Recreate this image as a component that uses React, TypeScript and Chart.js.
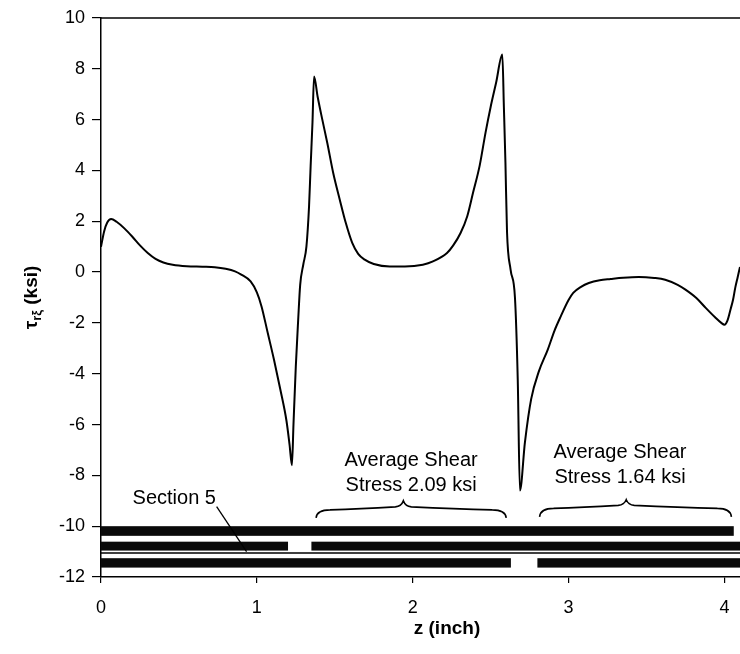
import React, { useEffect, useRef } from "react";
import { Chart, registerables } from "chart.js";

Chart.register(...registerables);

// ---- data ----
const zValues = [
  0.0, 0.02, 0.04, 0.065, 0.1, 0.15, 0.2, 0.25, 0.3, 0.35, 0.4, 0.46, 0.55, 0.65, 0.73, 0.8, 0.86, 0.9, 0.96,
  1.0, 1.03, 1.07, 1.11, 1.15, 1.19, 1.21, 1.225, 1.235, 1.25, 1.265, 1.278, 1.298, 1.318, 1.335, 1.345, 1.357,
  1.367, 1.39, 1.42, 1.452, 1.49, 1.532, 1.57, 1.612, 1.65, 1.692, 1.75, 1.853, 1.95, 2.065, 2.13, 2.22, 2.26,
  2.307, 2.35, 2.387, 2.43, 2.467, 2.5, 2.535, 2.575, 2.585, 2.595, 2.605, 2.628, 2.656, 2.674, 2.688, 2.72, 2.76,
  2.81, 2.866, 2.91, 2.95, 3.0, 3.03, 3.08, 3.13, 3.2, 3.27, 3.35, 3.45, 3.55, 3.62, 3.7, 3.75, 3.82, 3.88,
  3.94, 3.98, 4.0, 4.02, 4.04, 4.055, 4.07, 4.085, 4.1,
];
const tauValues = [
  1.0, 1.6, 1.95, 2.09, 1.98, 1.72, 1.4, 1.05, 0.75, 0.52, 0.38, 0.29, 0.23, 0.21, 0.19, 0.13, 0.03, -0.1, -0.37,
  -0.8, -1.35, -2.4, -3.45, -4.6, -5.85, -6.8, -7.6, -6.0, -3.7, -1.9, -0.5, 0.3, 1.0, 2.6, 4.16, 5.9,
  7.7, 6.9, 6.0, 5.08, 3.9, 2.85, 1.95, 1.15, 0.72, 0.49, 0.32, 0.22, 0.22, 0.29, 0.42, 0.75, 1.05,
  1.54, 2.2, 3.12, 4.2, 5.48, 6.5, 7.45, 8.56, 6.5, 4.3, 1.6, 0.1, -1.0, -4.24, -8.6, -6.7, -5.0,
  -3.9, -3.06, -2.3, -1.74, -1.1, -0.82, -0.58, -0.43, -0.32, -0.27, -0.22, -0.19, -0.23, -0.3, -0.5, -0.69, -1.02, -1.41,
  -1.78, -2.0, -2.07, -1.9, -1.45, -1.1, -0.6, -0.2, 0.2,
];

const xRange = [0, 4.1];
const yRange = [-12, 10];
const xTickValues = [0, 1, 2, 3, 4];
const yTickStep = 2;

// section bars at the bottom: [zStart, zEnd] per row, row levels [top, bottom]
const barRow1 = [[0, 4.06]];
const barRow2 = [[0, 1.2], [1.35, 4.1]];
const barRow3 = [[0, 2.63], [2.8, 4.1]];
const barRows = [barRow1, barRow2, barRow3];
const rowLevels = [[-10.0, -10.38], [-10.61, -10.96], [-11.26, -11.63]];
const dividerLevel = -11.06;

// braces: [zStart, zEnd, zTip] and [yEnds, yBody, yTip]
const braceSpans = [[1.38, 2.6, 1.94], [2.814, 4.045, 3.37]];
const braceLevels = [[-9.67, -9.36, -9.0], [-9.63, -9.3, -8.96]];

const averageLabels = [["Average Shear", "Stress 2.09 ksi"], ["Average Shear", "Stress 1.64 ksi"]];
const averageLabelPos = [[1.99, -7.62, -8.61], [3.33, -7.31, -8.3]];

const sectionLabel = "Section 5";
const sectionLabelPos = [0.47, -9.12];
const sectionLeader = [[0.742, -9.23], [0.934, -11.0]];

const xTitle = "z (inch)";
const xTitleCenterZ = 2.22;
const yTitleMain = "τ";
const yTitleSub = "rξ";
const yTitleRest = " (ksi)";

const FONT = "'Liberation Sans', Arial, Helvetica, sans-serif";

const overlayPlugin = {
  id: "overlay",
  afterDraw(chart: any) {
    const { ctx, chartArea, scales } = chart;
    const xs = scales.x;
    const ys = scales.y;
    const px = (v: number) => xs.getPixelForValue(v);
    const py = (v: number) => ys.getPixelForValue(v);
    ctx.save();

    // top frame line
    ctx.strokeStyle = "#000";
    ctx.lineWidth = 1.5;
    ctx.beginPath();
    ctx.moveTo(chartArea.left, py(yRange[1]));
    ctx.lineTo(chartArea.right, py(yRange[1]));
    ctx.stroke();

    // bars
    ctx.fillStyle = "#0a0a0a";
    barRows.forEach((row, i) => {
      const [top, bot] = rowLevels[i];
      row.forEach(([a, b]) => {
        const x0 = px(a);
        const x1 = Math.min(px(b), chartArea.right);
        ctx.fillRect(x0, py(top), x1 - x0, py(bot) - py(top));
      });
    });

    // divider
    ctx.lineWidth = 1.5;
    ctx.beginPath();
    ctx.moveTo(px(xRange[0]), py(dividerLevel));
    ctx.lineTo(px(xRange[1]), py(dividerLevel));
    ctx.stroke();

    // braces
    ctx.lineWidth = 1.6;
    braceSpans.forEach(([a, b, t], i) => {
      const [ye, yb, yt] = braceLevels[i].map(py);
      const xa = px(a);
      const xb = px(b);
      const xt = px(t);
      ctx.beginPath();
      ctx.moveTo(xa, ye);
      ctx.quadraticCurveTo(xa + 1, yb, xa + 14, yb);
      ctx.quadraticCurveTo((xa + xt) / 2, yb - 1, xt - 8, yb - 3);
      ctx.quadraticCurveTo(xt - 2, yb - 3.5, xt, yt);
      ctx.quadraticCurveTo(xt + 2, yb - 3.5, xt + 8, yb - 3);
      ctx.quadraticCurveTo((xb + xt) / 2, yb - 1, xb - 14, yb);
      ctx.quadraticCurveTo(xb - 1, yb, xb, ye);
      ctx.stroke();
    });

    // labels
    ctx.fillStyle = "#000";
    ctx.font = `20px ${FONT}`;
    ctx.textAlign = "center";
    ctx.textBaseline = "alphabetic";
    averageLabels.forEach((lines, i) => {
      const [z, y1, y2] = averageLabelPos[i];
      ctx.fillText(lines[0], px(z), py(y1));
      ctx.fillText(lines[1], px(z), py(y2));
    });
    ctx.fillText(sectionLabel, px(sectionLabelPos[0]), py(sectionLabelPos[1]));

    // leader line
    ctx.lineWidth = 1.3;
    ctx.beginPath();
    ctx.moveTo(px(sectionLeader[0][0]), py(sectionLeader[0][1]));
    ctx.lineTo(px(sectionLeader[1][0]), py(sectionLeader[1][1]));
    ctx.stroke();

    // x title
    ctx.font = `bold 19px ${FONT}`;
    ctx.textAlign = "center";
    ctx.fillText(xTitle, px(xTitleCenterZ), 634);

    // y title (rotated)
    const cy = (chartArea.top + chartArea.bottom) / 2;
    ctx.translate(31, cy);
    ctx.rotate(-Math.PI / 2);
    ctx.textAlign = "left";
    const mainFont = `bold 19px ${FONT}`;
    const subFont = `bold 13px ${FONT}`;
    ctx.font = mainFont;
    const w1 = ctx.measureText(yTitleMain).width;
    const w3 = ctx.measureText(yTitleRest).width;
    ctx.font = subFont;
    const w2 = ctx.measureText(yTitleSub).width;
    const x0 = -(w1 + w2 + w3) / 2;
    ctx.font = mainFont;
    ctx.fillText(yTitleMain, x0, 6);
    ctx.font = subFont;
    ctx.fillText(yTitleSub, x0 + w1, 10);
    ctx.font = mainFont;
    ctx.fillText(yTitleRest, x0 + w1 + w2, 6);

    ctx.restore();
  },
};

export default function App() {
  const ref = useRef<HTMLCanvasElement | null>(null);

  useEffect(() => {
    document.body.style.margin = "0";
    if (!ref.current) return;
    const points = zValues.map((z, i) => ({ x: z, y: tauValues[i] }));
    const chart = new Chart(ref.current, {
      type: "line",
      data: {
        datasets: [
          {
            data: points,
            borderColor: "#000",
            borderWidth: 2,
            pointRadius: 0,
            pointHoverRadius: 0,
            cubicInterpolationMode: "monotone",
            fill: false,
          },
        ],
      },
      options: {
        animation: false,
        responsive: false,
        devicePixelRatio: 1,
        layout: { autoPadding: false, padding: { top: 18, left: 0, right: 0, bottom: 0 } },
        plugins: { legend: { display: false }, tooltip: { enabled: false } },
        scales: {
          x: {
            type: "linear",
            min: xRange[0],
            max: xRange[1],
            afterBuildTicks: (s: any) => {
              s.ticks = xTickValues.map((v) => ({ value: v }));
            },
            afterFit: (s: any) => {
              s.height = 77;
              s.paddingLeft = 0;
              s.paddingRight = 0;
            },
            grid: { drawOnChartArea: false, color: "#000", tickLength: 6, lineWidth: 1.2 },
            border: { color: "#000", width: 1.5 },
            ticks: { color: "#000", padding: 14, font: { family: FONT, size: 18 } },
          },
          y: {
            type: "linear",
            min: yRange[0],
            max: yRange[1],
            ticks: { stepSize: yTickStep, color: "#000", padding: 7, font: { family: FONT, size: 18 } },
            afterFit: (s: any) => {
              s.width = 101;
            },
            grid: { drawOnChartArea: false, color: "#000", tickLength: 9, lineWidth: 1.2 },
            border: { color: "#000", width: 1.5 },
          },
        },
      },
      plugins: [overlayPlugin],
    });
    return () => chart.destroy();
  }, []);

  return (
    <div style={{ width: 740, height: 654 }}>
      <canvas ref={ref} width={740} height={654} style={{ display: "block" }} />
    </div>
  );
}
